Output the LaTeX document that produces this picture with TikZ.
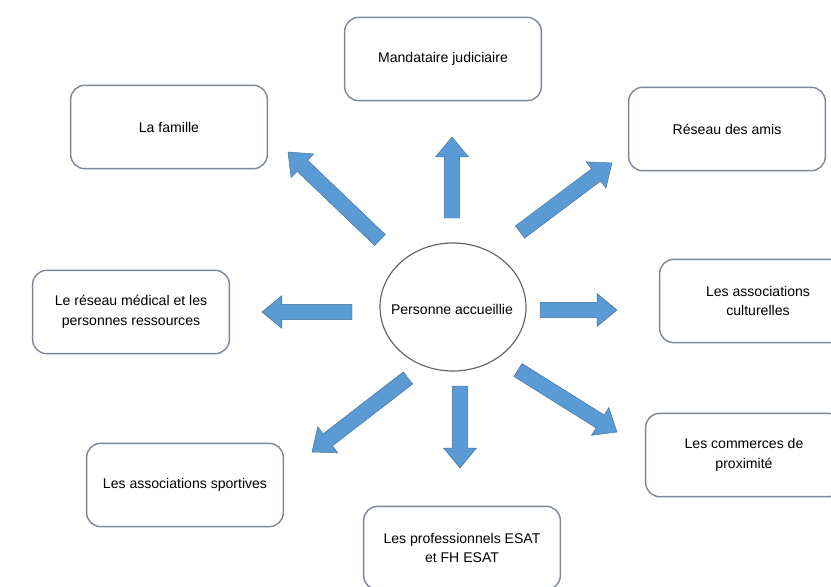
\documentclass[tikz,border=0pt]{standalone}
\usepackage{fontspec}
\setmainfont{Liberation Sans}
\usetikzlibrary{calc}
\definecolor{arrowfill}{RGB}{91,155,213}
\definecolor{arrowline}{RGB}{65,113,156}
\definecolor{boxline}{RGB}{125,135,155}
% block arrow from tail #1 to tip #2
\newcommand{\bigarrow}[2]{%
  \coordinate (hd) at ($(#2)!17pt!(#1)$);
  \filldraw[fill=arrowfill,draw=arrowline,line width=0.4pt]
    ($(#1)!6.5pt!90:(#2)$) -- ($(hd)!6.5pt!-90:(#1)$) -- ($(hd)!14pt!-90:(#1)$) -- (#2)
    -- ($(hd)!14pt!90:(#1)$) -- ($(hd)!6.5pt!90:(#1)$) -- ($(#1)!6.5pt!-90:(#2)$) -- cycle;}
\begin{document}
\begin{tikzpicture}[x=0.03cm,y=-0.03cm,
    every node/.style={font=\fontsize{12}{17}\selectfont,align=center},
    box/.style={draw=boxline,line width=1.2pt,rounded corners=12pt,minimum width=5.9cm,minimum height=2.5cm,fill=white}]
    \useasboundingbox[fill=white] (0,0) rectangle (831,587);
    \node at (452,309) (pers) {Personne accueillie};
    \draw[black!60,line width=1pt] (453,307) ellipse [x radius=2.19cm,y radius=1.92cm];
    \node[box] at (443,59) (mandat) {Mandataire judiciaire};
    \node[box] at (169,127) (famille) {La famille};
    \node[box] at (727,129) (amis) {Réseau des amis};
    \node[box] at (131,312) (medical) {Le réseau médical et les\\personnes ressources};
    \node[box] at (758,301) (culture) {Les associations\\culturelles};
    \node[box] at (744,455) (commerce) {Les commerces de\\proximité};
    \node[box] at (185,485) (sport) {Les associations sportives};
    \node[box] at (462,548) (esat) {Les professionnels ESAT\\et FH ESAT};
    % arrow ends
    \coordinate (n1) at (452,218); \coordinate (n2) at (452,137);
    \coordinate (nw1) at (380,240); \coordinate (nw2) at (288,152);
    \coordinate (ne1) at (520,232); \coordinate (ne2) at (612,163);
    \coordinate (w1) at (352,312); \coordinate (w2) at (262,312);
    \coordinate (e1) at (540,310); \coordinate (e2) at (617,310);
    \coordinate (sw1) at (408,378); \coordinate (sw2) at (312,452);
    \coordinate (s1) at (460,386); \coordinate (s2) at (460,468);
    \coordinate (se1) at (518,370); \coordinate (se2) at (617,432);
    \bigarrow{n1}{n2} \bigarrow{nw1}{nw2} \bigarrow{ne1}{ne2} \bigarrow{w1}{w2}
    \bigarrow{e1}{e2} \bigarrow{sw1}{sw2} \bigarrow{s1}{s2} \bigarrow{se1}{se2}
\end{tikzpicture}
\end{document}
